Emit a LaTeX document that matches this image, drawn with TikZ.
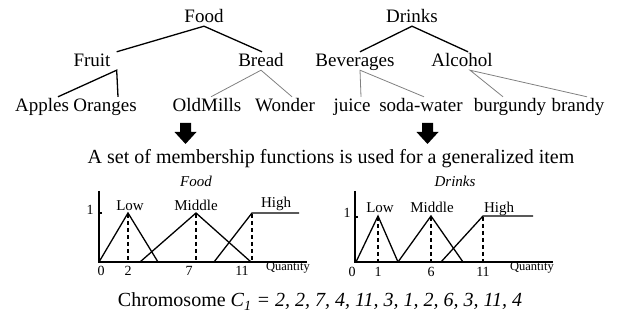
\documentclass[tikz,border=0pt]{standalone}
\usepackage{fontspec}
\setmainfont{Liberation Serif}
\usetikzlibrary{calc}
\begin{document}
\begin{tikzpicture}[x=1pt,y=-1pt,
  tree/.style={anchor=base,inner sep=0pt,text height=15pt,text depth=3pt,font=\fontsize{19}{22}\selectfont},
  big/.style={anchor=base,inner sep=0pt,font=\fontsize{20}{24}\selectfont},
  lab/.style={anchor=base,inner sep=0pt,font=\fontsize{15}{18}\selectfont},
  num/.style={anchor=base,inner sep=0pt,font=\fontsize{14}{17}\selectfont},
  qty/.style={anchor=base,inner sep=0pt,font=\fontsize{12.5}{14}\selectfont},
  ttl/.style={anchor=base,inner sep=0pt,font=\fontsize{15}{18}\selectfont\itshape},
  edge/.style={line width=1.3pt},
  sub/.style={line width=0.8pt,black!50},
  mf/.style={line width=1.3pt,line join=miter},
  ax/.style={line width=1.2pt},
  dl/.style={line width=1.2pt,dash pattern=on 4pt off 3pt},
  blockarrow/.style={fill=black}
]
\path[use as bounding box] (0,0) rectangle (621,328);

% ---------- tree ----------
\node[tree] (food) at (204,23) {Food};
\node[tree] (drinks) at (412,23) {Drinks};
\node[tree] (fruit) at (92,67) {Fruit};
\node[tree] (bread) at (261,67) {Bread};
\node[tree] (bev) at (355,67) {Beverages};
\node[tree] (alc) at (462,67) {Alcohol};
\node[tree] (apples) at (42,112) {Apples};
\node[tree] (oranges) at (105,112) {Oranges};
\node[tree] (oldmills) at (207,112) {OldMills};
\node[tree] (wonder) at (285,112) {Wonder};
\node[tree] (juice) at (352,112) {juice};
\node[tree] (soda) at (421,112) {soda-water};
\node[tree] (burg) at (510,112) {burgundy};
\node[tree] (brandy) at (578,112) {brandy};

\draw[edge] ($(fruit.north east)+(6,0)$) -- (food.south) -- ($(bread.north)+(1,0)$);
\draw[edge] ($(bev.north)+(5,0)$) -- (drinks.south) -- ($(alc.north)+(6,0)$);
\draw[edge] ($(apples.north)+(16,0)$) -- ($(fruit.south east)+(6,0)$) -- ($(oranges.north)+(13,0)$);
\draw[sub] ($(oldmills.north)+(4,0)$) -- (bread.south) -- ($(wonder.north)+(7,0)$);
\draw[sub] ($(juice.north)+(9,0)$) -- ($(bev.south)+(5,0)$) -- ($(soda.north)+(3,0)$);
\draw[sub] ($(burg.north)+(-7,0)$) -- ($(alc.south)+(8,0)$) -- ($(brandy.north)+(9,0)$);

% ---------- block arrows ----------
\fill[blockarrow] (180,123) -- (191,123) -- (191,132) -- (196.5,132) -- (185.5,144) -- (174.5,132) -- (180,132) -- cycle;
\fill[blockarrow] (422,123) -- (433,123) -- (433,132) -- (438.5,132) -- (427.5,144) -- (416.5,132) -- (422,132) -- cycle;

\node[big] (sentence) at (331,164) {A set of membership functions is used for a generalized item};

% ---------- Food plot ----------
\node[ttl] (tfood) at (196,187) {Food};
\draw[ax] (99,191) -- (99,262) -- (307,262);
\draw[ax] (99,213) -- (102,213);
\draw[mf] (99,262) -- (128,213) -- (158,262);
\draw[mf] (140,262) -- (196,213) -- (251,262);
\draw[mf] (214,262) -- (252,213) -- (299,213);
\draw[dl] (128,214) -- (128,261);
\draw[dl] (196,214) -- (196,261);
\draw[dl] (252,214) -- (252,261);
\node[num] (f1) at (90,215) {1};
\node[lab] (flow) at (130,211) {Low};
\node[lab] (fmid) at (196,211) {Middle};
\node[lab] (fhigh) at (276,208) {High};
\node[num] (f0) at (101,276) {0};
\node[num] (f2) at (128,276) {2};
\node[num] (f7) at (189,276) {7};
\node[num] (f11) at (242,276) {11};
\node[qty] (fq) at (288,271) {Quantity};

% ---------- Drinks plot ----------
\node[ttl] (tdrinks) at (455,187) {Drinks};
\draw[ax] (355,191) -- (355,262) -- (553,262);
\draw[ax] (355,217) -- (358,217);
\draw[mf] (356,262) -- (378,216) -- (398,262);
\draw[mf] (398,262) -- (431,216) -- (463,262);
\draw[mf] (441,262) -- (483,216) -- (533,216);
\draw[dl] (378,217) -- (378,261);
\draw[dl] (431,217) -- (431,261);
\draw[dl] (483,217) -- (483,261);
\node[num] (d1) at (347,218) {1};
\node[lab] (dlow) at (380,213) {Low};
\node[lab] (dmid) at (432,213) {Middle};
\node[lab] (dhigh) at (499,213) {High};
\node[num] (d0) at (352,277) {0};
\node[num] (dd1) at (378,277) {1};
\node[num] (d6) at (431,277) {6};
\node[num] (d11) at (483,277) {11};
\node[qty] (dq) at (532,271) {Quantity};

% ---------- chromosome ----------
\node[big] (chrom) at (320,307) {Chromosome \textit{C\textsubscript{1} = 2, 2, 7, 4, 11, 3, 1, 2, 6, 3, 11, 4}};
\end{tikzpicture}
\end{document}
